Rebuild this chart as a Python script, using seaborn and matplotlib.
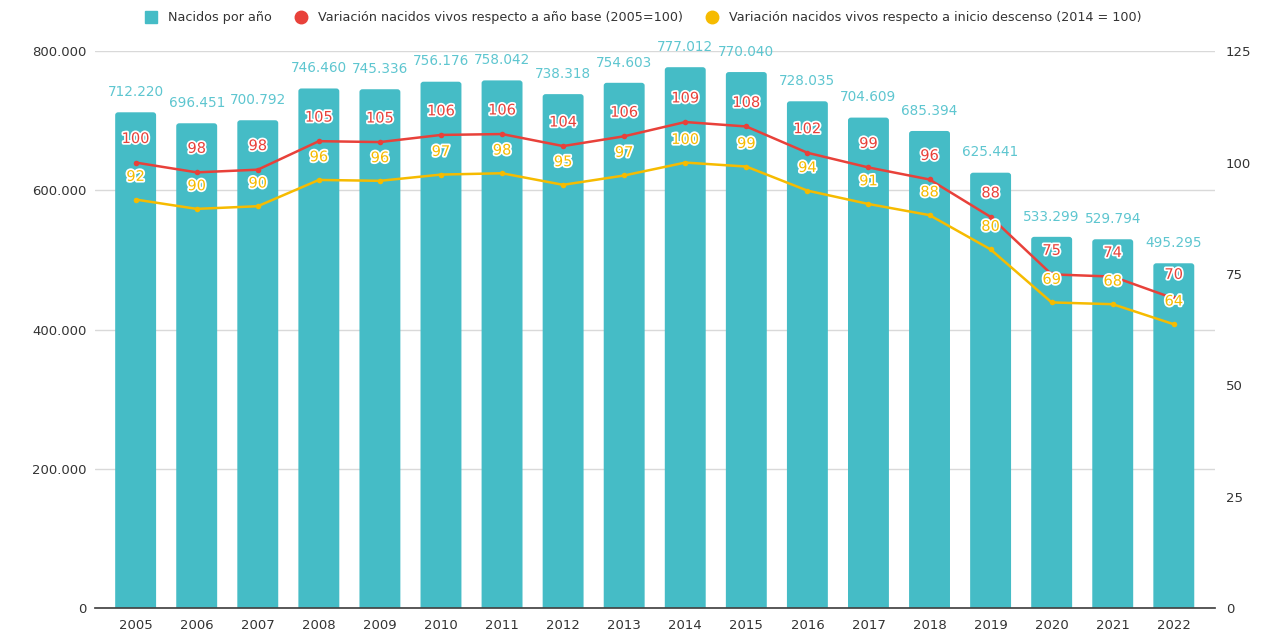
import matplotlib
matplotlib.use("Agg")
import matplotlib.pyplot as plt
import matplotlib.patheffects as pe
from matplotlib.lines import Line2D
from matplotlib.patches import FancyBboxPatch
import seaborn as sns
import pandas as pd

# --- data ---
anios = [str(a) for a in range(2005, 2023)]
nacidos = [712220, 696451, 700792, 746460, 745336, 756176, 758042, 738318, 754603,
           777012, 770040, 728035, 704609, 685394, 625441, 533299, 529794, 495295]
var_base = [100.0, 97.8, 98.4, 104.8, 104.6, 106.2, 106.4, 103.7, 105.9,
            109.1, 108.1, 102.2, 98.9, 96.2, 87.8, 74.9, 74.4, 69.5]
var_desc = [91.7, 89.6, 90.2, 96.1, 95.9, 97.3, 97.6, 95.0, 97.1,
            100.0, 99.1, 93.7, 90.7, 88.2, 80.5, 68.6, 68.2, 63.7]

col_bar = "#45bcc6"
col_red = "#e8413a"
col_yel = "#f6bb00"
col_lbl = "#5ec6d0"

df = pd.DataFrame({"anio": anios, "nacidos": nacidos,
                   "base": var_base, "desc": var_desc})
df["x"] = range(len(df))

sns.set_theme(style="white")
plt.rcParams["font.family"] = ["DejaVu Sans"]

fig = plt.figure(figsize=(12.8, 6.4), dpi=100)
ax = fig.add_axes([0.074, 0.05, 0.875, 0.87])
ax2 = ax.twinx()

# barras
sns.barplot(data=df, x="anio", y="nacidos", color=col_bar, width=0.67,
            saturation=1, ax=ax, zorder=2)

# esquinas redondeadas (abajo queda recortado por el eje)
for p in list(ax.patches):
    x0, w, h = p.get_x(), p.get_width(), p.get_height()
    caja = FancyBboxPatch((x0, -12000), w, h + 12000,
                          boxstyle="round,pad=0,rounding_size=0.05",
                          mutation_aspect=80000, facecolor=col_bar,
                          edgecolor="none", zorder=2)
    p.remove()
    ax.add_patch(caja)

for i, v in enumerate(nacidos):
    ax.text(i, v + 19000, f"{v:,}".replace(",", "."),
            ha="center", va="bottom", fontsize=9.8, color=col_lbl)

# lineas
sns.lineplot(data=df, x="x", y="base", color=col_red, lw=1.8, marker="o",
             markersize=4, markeredgewidth=0, ax=ax2, zorder=3)
sns.lineplot(data=df, x="x", y="desc", color=col_yel, lw=1.8, marker="o",
             markersize=4, markeredgewidth=0, ax=ax2, zorder=3)
stroke = [pe.withStroke(linewidth=2.5, foreground="white")]
for i in range(len(df)):
    ax2.text(i, var_base[i] + 5.4, f"{round(var_base[i])}", ha="center", va="center",
             fontsize=10.5, color=col_red, path_effects=stroke, zorder=5)
    ax2.text(i, var_desc[i] + 5.2, f"{round(var_desc[i])}", ha="center", va="center",
             fontsize=10.5, color=col_yel, path_effects=stroke, zorder=5)

# ejes
ax.set_xlim(-0.67, 17.67)
ax.set_ylim(0, 800000)
ax.set_yticks([0, 200000, 400000, 600000, 800000])
ax.set_yticklabels(["0", "200.000", "400.000", "600.000", "800.000"])
ax.yaxis.grid(True, color="#d9d9d9", lw=1, zorder=0)
ax.set_axisbelow(True)
ax.set_xlabel("")
ax.set_ylabel("")
ax2.set_ylim(0, 125)
ax2.set_yticks([0, 25, 50, 75, 100, 125])
ax2.set_xlabel("")
ax2.set_ylabel("")
ax2.grid(False)

for a in (ax, ax2):
    for s in ["left", "right", "top"]:
        a.spines[s].set_visible(False)
ax.spines["bottom"].set_color("#444444")
ax2.spines["bottom"].set_visible(False)
ax.tick_params(axis="x", length=8, direction="inout", color="#444444",
               labelsize=9.5, labelcolor="#333333", pad=4)
ax.tick_params(axis="y", length=0, labelsize=9.5, labelcolor="#333333", pad=6)
ax2.tick_params(axis="y", length=0, labelsize=9.5, labelcolor="#333333", pad=8)

# leyenda
handles = [
    Line2D([], [], marker="s", ls="", color=col_bar, markersize=9),
    Line2D([], [], marker="o", ls="", color=col_red, markersize=9),
    Line2D([], [], marker="o", ls="", color=col_yel, markersize=9),
]
labels = ["Nacidos por año",
          "Variación nacidos vivos respecto a año base (2005=100)",
          "Variación nacidos vivos respecto a inicio descenso (2014 = 100)"]
fig.legend(handles, labels, loc="upper center", bbox_to_anchor=(0.5, 1.0), ncol=3,
           frameon=False, fontsize=9.2, handletextpad=0.3, columnspacing=1.3,
           labelcolor="#333333")

fig.savefig("out.png", dpi=100)
